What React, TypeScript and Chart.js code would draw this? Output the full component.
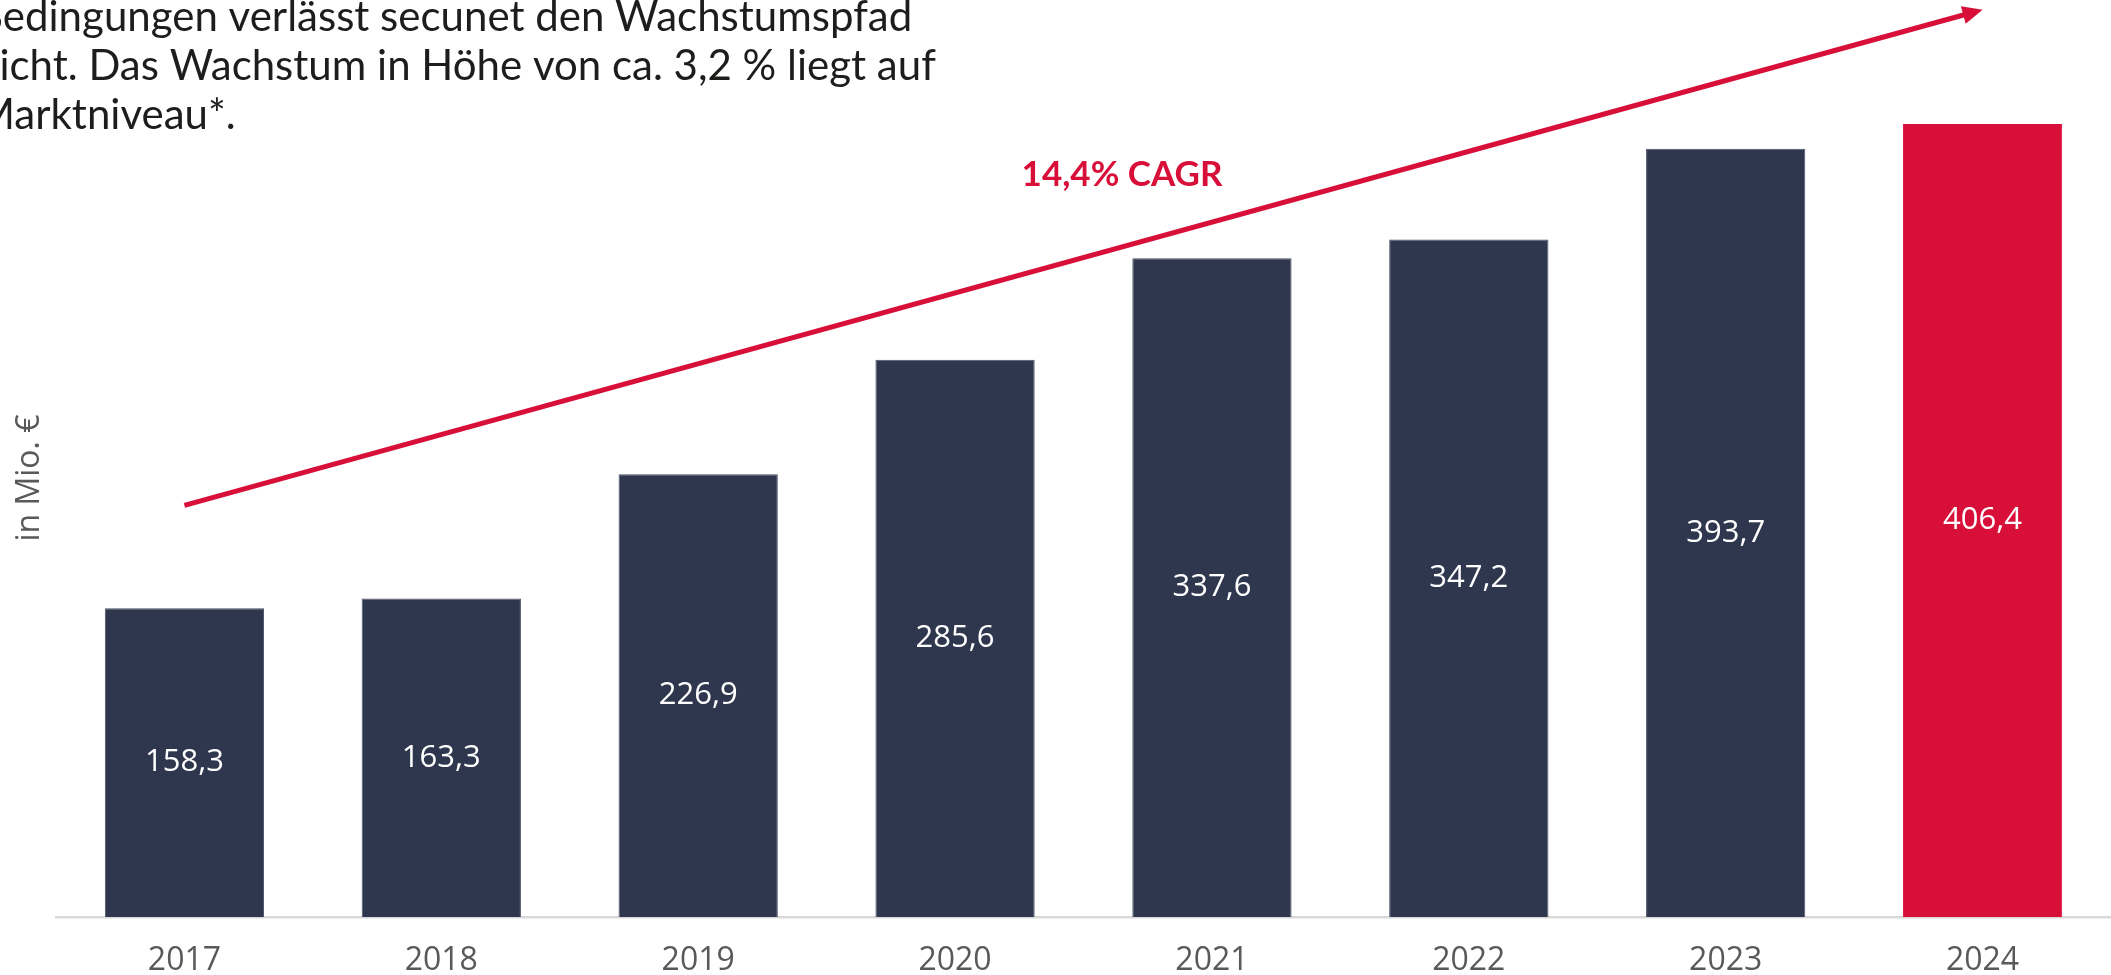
import React, { useEffect, useRef } from 'react';
import { Chart, registerables } from 'chart.js';

Chart.register(...registerables);

const categories = ['2017', '2018', '2019', '2020', '2021', '2022', '2023', '2024'];
const revenue = [158.3, 163.3, 226.9, 285.6, 337.6, 347.2, 393.7, 406.4];
const valueLabels = ['158,3', '163,3', '226,9', '285,6', '337,6', '347,2', '393,7', '406,4'];
const arrowStartValue = 211;
const arrowEndValue = 465;
const cagrLabel = '14,4% CAGR';
const yAxisTitle = 'in Mio. €';
const introLines = [
  'Bedingungen verlässt secunet den Wachstumspfad',
  'nicht. Das Wachstum in Höhe von ca. 3,2 % liegt auf',
  'Marktniveau*.',
];

const NAVY = '#2f374f';
const RED = '#d80f38';
const GREY = '#595959';

const overlayPlugin = {
  id: 'overlay',
  afterDatasetsDraw(chart: any) {
    const ctx = chart.ctx as CanvasRenderingContext2D;
    const xs = chart.scales.x;
    const ys = chart.scales.y;
    const meta = chart.getDatasetMeta(0);
    ctx.save();

    // value labels centred in bars
    ctx.font = '31px "Open Sans"';
    ctx.fillStyle = '#ffffff';
    ctx.textAlign = 'center';
    ctx.textBaseline = 'middle';
    meta.data.forEach((bar: any, i: number) => {
      const p = bar.getProps(['x', 'y', 'base'], true);
      ctx.fillText(valueLabels[i], p.x, (p.y + p.base) / 2);
    });

    // CAGR arrow
    const x0 = xs.getPixelForValue(0);
    const y0 = ys.getPixelForValue(arrowStartValue);
    const x1 = xs.getPixelForValue(categories.length - 1);
    const y1 = ys.getPixelForValue(arrowEndValue);
    const ang = Math.atan2(y1 - y0, x1 - x0);
    const c = Math.cos(ang);
    const s = Math.sin(ang);
    const headLen = 20;
    const headHalf = 9;
    const bx = x1 - headLen * c;
    const by = y1 - headLen * s;
    ctx.strokeStyle = RED;
    ctx.lineWidth = 5;
    ctx.beginPath();
    ctx.moveTo(x0, y0);
    ctx.lineTo(bx + 3 * c, by + 3 * s);
    ctx.stroke();
    ctx.fillStyle = RED;
    ctx.beginPath();
    ctx.moveTo(x1, y1);
    ctx.lineTo(bx - s * headHalf, by + c * headHalf);
    ctx.lineTo(bx + s * headHalf, by - c * headHalf);
    ctx.closePath();
    ctx.fill();

    // CAGR label
    ctx.font = 'bold 35px Lato';
    ctx.fillStyle = RED;
    ctx.textAlign = 'center';
    ctx.textBaseline = 'middle';
    ctx.fillText(cagrLabel, xs.getPixelForValue(3.65), ys.getPixelForValue(380.5));

    // intro text (cut off at the top-left as in the source)
    ctx.font = '42px Lato';
    ctx.fillStyle = '#1d1d1b';
    ctx.textAlign = 'left';
    ctx.textBaseline = 'alphabetic';
    const baselines = [31, 80, 129];
    introLines.forEach((line, i) => ctx.fillText(line, -24, baselines[i]));

    ctx.restore();
  },
};

export default function App() {
  const canvasRef = useRef<HTMLCanvasElement | null>(null);

  useEffect(() => {
    document.body.style.margin = '0';
    const canvas = canvasRef.current;
    if (!canvas) return;
    const chart = new Chart(canvas, {
      type: 'bar',
      data: {
        labels: categories,
        datasets: [
          {
            data: revenue,
            backgroundColor: revenue.map((_, i) => (i === revenue.length - 1 ? RED : NAVY)),
            borderColor: revenue.map((_, i) => (i === revenue.length - 1 ? RED : '#4a5166')),
            borderWidth: 1,
            categoryPercentage: 1,
            barPercentage: 0.62,
          },
        ],
      },
      options: {
        animation: false,
        responsive: true,
        maintainAspectRatio: false,
        layout: { padding: { top: 39, right: 0, bottom: 0, left: 0 } },
        plugins: {
          legend: { display: false },
          tooltip: { enabled: false },
        },
        scales: {
          x: {
            grid: { display: false, drawTicks: false },
            border: { display: true, color: '#d9d9d9', width: 2.5 },
            ticks: {
              color: GREY,
              padding: 0,
              font: { family: '"Open Sans"', size: 32, lineHeight: '29px' as any },
              callback: (_v: any, i: number) => ['', categories[i]],
            },
          },
          y: {
            min: 0,
            max: 450,
            grid: { display: false, drawTicks: false },
            border: { display: false },
            ticks: { display: false },
            title: {
              display: true,
              text: yAxisTitle,
              color: GREY,
              padding: { top: 11, bottom: 6.6 },
              font: { family: '"Open Sans"', size: 32, lineHeight: 1.2 },
            },
          },
        },
      },
      plugins: [overlayPlugin],
    });
    return () => chart.destroy();
  }, []);

  return (
    <div style={{ position: 'relative', width: '2111px', height: '975px' }}>
      <canvas ref={canvasRef} style={{ display: 'block' }} />
    </div>
  );
}
